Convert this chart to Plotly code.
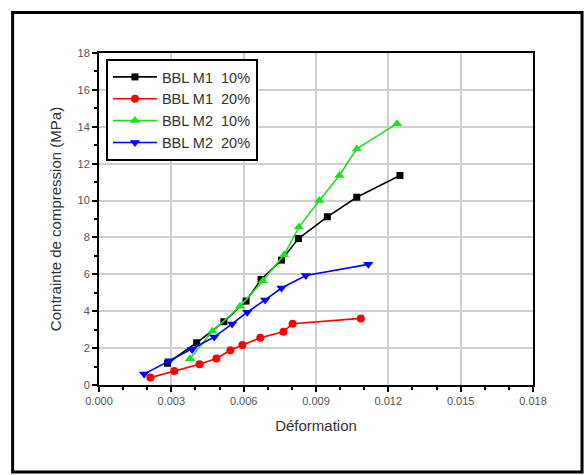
import plotly.graph_objects as go

# Compression tests: strain (Déformation) vs compressive stress (MPa)
m1_10_x = [0.00284, 0.00405, 0.00518, 0.00610, 0.00672, 0.00757, 0.00827, 0.00947, 0.01069, 0.01248]
m1_10_y = [1.18, 2.29, 3.43, 4.55, 5.72, 6.77, 7.94, 9.12, 10.18, 11.36]

m1_20_x = [0.00213, 0.00312, 0.00417, 0.00487, 0.00545, 0.00595, 0.00669, 0.00765, 0.00803, 0.01086]
m1_20_y = [0.40, 0.76, 1.12, 1.44, 1.88, 2.17, 2.56, 2.89, 3.32, 3.61]

m2_10_x = [0.00377, 0.00470, 0.00585, 0.00680, 0.00768, 0.00829, 0.00914, 0.00997, 0.01069, 0.01236]
m2_10_y = [1.42, 2.91, 4.27, 5.65, 7.06, 8.56, 10.0, 11.36, 12.80, 14.17]

m2_20_x = [0.00187, 0.00292, 0.00386, 0.00478, 0.00552, 0.00615, 0.00689, 0.00757, 0.00858, 0.01117]
m2_20_y = [0.59, 1.32, 1.93, 2.60, 3.31, 3.95, 4.61, 5.26, 5.94, 6.54]

series = [
    ("BBL M1\u00a0\u00a010%", m1_10_x, m1_10_y, "#000000", "square", 7),
    ("BBL M1\u00a0\u00a020%", m1_20_x, m1_20_y, "#ff0000", "circle", 8),
    ("BBL M2\u00a0\u00a010%", m2_10_x, m2_10_y, "#1fe01f", "triangle-up", 9),
    ("BBL M2\u00a0\u00a020%", m2_20_x, m2_20_y, "#0000ff", "triangle-down", 9),
]

fig = go.Figure()
for name, xs, ys, color, symbol, msize in series:
    fig.add_trace(go.Scatter(
        x=xs, y=ys, name=name, mode="lines+markers",
        line=dict(color=color, width=1.6),
        marker=dict(symbol=symbol, size=msize, color=color),
    ))

axis_common = dict(
    showline=True, linecolor="#000000", linewidth=2, mirror=True,
    showgrid=True, gridcolor="#cfcfcf", gridwidth=2,
    ticks="outside", ticklen=5, tickwidth=1.5, tickcolor="#000000",
    tickfont=dict(family="Liberation Sans, Arial, sans-serif", size=11, color="#555555"),
    zeroline=False,
    minor=dict(ticks="outside", ticklen=3, tickwidth=1.5, tickcolor="#000000", showgrid=False),
)

fig.update_xaxes(
    range=[0, 0.018], tickvals=[0, 0.003, 0.006, 0.009, 0.012, 0.015, 0.018],
    tickformat=".3f",
    title=dict(text="Déformation", standoff=14,
               font=dict(family="Liberation Sans, Arial, sans-serif", size=15, color="#333333")),
    **axis_common,
)
fig.update_yaxes(
    range=[0, 18], tickvals=list(range(0, 19, 2)),
    title=dict(text="Contrainte de compression (MPa)", standoff=12,
               font=dict(family="Liberation Sans, Arial, sans-serif", size=15, color="#333333")),
    **axis_common,
)

# Outer frame around the whole figure
fig.add_shape(type="rect", xref="paper", yref="paper",
              x0=-0.199, x1=1.113, y0=-0.262, y1=1.122,
              line=dict(color="#000000", width=3))

fig.update_layout(
    width=585, height=475,
    margin=dict(l=99, r=52, t=53, b=90),
    paper_bgcolor="#ffffff", plot_bgcolor="#ffffff",
    legend=dict(
        x=0.016, y=0.982, xanchor="left", yanchor="top",
        bordercolor="#000000", borderwidth=2, bgcolor="#ffffff",
        font=dict(family="Liberation Sans, Arial, sans-serif", size=14.5, color="#333333"),
        tracegroupgap=0, itemwidth=44, entrywidth=150,
    ),
    showlegend=True,
)

fig.write_html("out.html")
